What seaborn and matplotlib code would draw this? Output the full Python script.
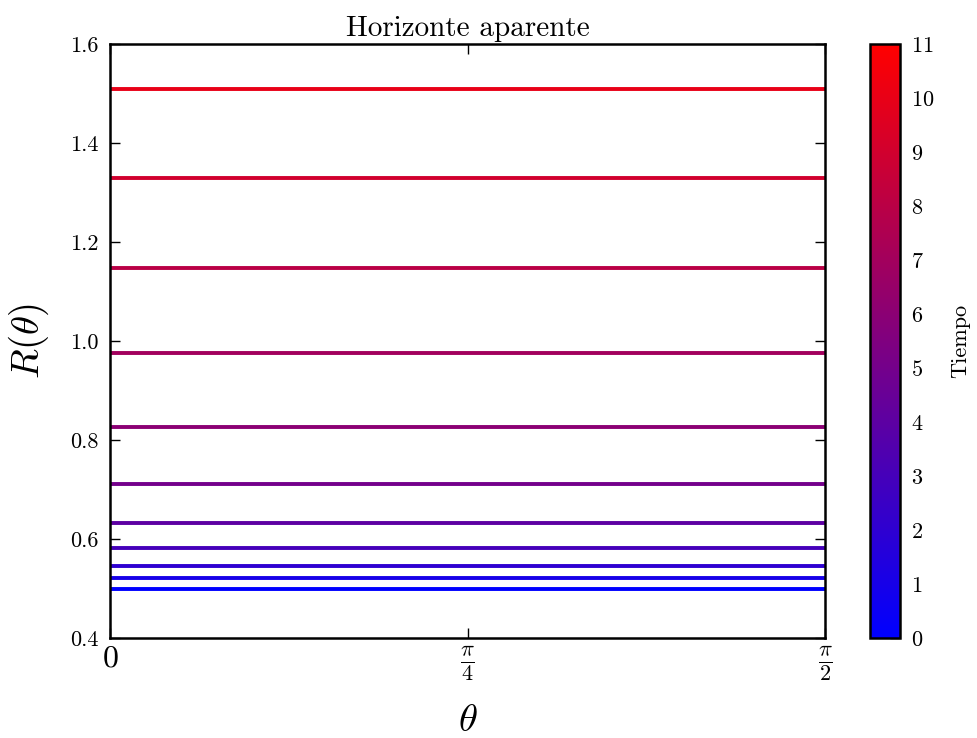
import numpy as np
import pandas as pd
import matplotlib
matplotlib.use("Agg")
import matplotlib.pyplot as plt
import seaborn as sns
from matplotlib.colors import LinearSegmentedColormap, Normalize
from matplotlib.cm import ScalarMappable

# Data
tiempos = [0, 1, 2, 3, 4, 5, 6, 7, 8, 9, 10]
radios = [0.499, 0.521, 0.546, 0.582, 0.633, 0.711, 0.827, 0.976, 1.148, 1.329, 1.509]
theta_ends = [0.0, np.pi / 2]
xtick_vals = [0.0, np.pi / 4, np.pi / 2]
xtick_labels = [r'$0$', r'$\frac{\pi}{4}$', r'$\frac{\pi}{2}$']
ytick_vals = [0.4, 0.6, 0.8, 1.0, 1.2, 1.4, 1.6]
cbar_ticks = list(range(0, 12))

rows = []
for t, r in zip(tiempos, radios):
    for th in theta_ends:
        rows.append({"theta": th, "R": r, "t": t})
df = pd.DataFrame(rows)

sns.set_style("white")
plt.rcParams['font.family'] = ['serif']
plt.rcParams['font.serif'] = ['cmr10', 'DejaVu Serif']
plt.rcParams['mathtext.fontset'] = 'cm'
plt.rcParams['axes.formatter.use_mathtext'] = True
plt.rcParams['text.color'] = 'black'
plt.rcParams['axes.labelcolor'] = 'black'
plt.rcParams['xtick.color'] = 'black'
plt.rcParams['ytick.color'] = 'black'

cmap = LinearSegmentedColormap.from_list("br", ["#0000ff", "#ff0000"])
norm = Normalize(vmin=0, vmax=11)

fig = plt.figure(figsize=(9.77, 7.38), dpi=100)
ax = fig.add_axes([110 / 977, 1 - 638 / 738, (825 - 110) / 977, (638 - 44) / 738])
cax = fig.add_axes([870 / 977, 1 - 638 / 738, 30 / 977, (638 - 44) / 738])

sns.lineplot(data=df, x="theta", y="R", hue="t", palette=cmap, hue_norm=norm,
             units="t", estimator=None, legend=False, lw=2.8, ax=ax)

ax.set_xlim(0, np.pi / 2)
ax.set_ylim(0.4, 1.6)
ax.set_xticks(xtick_vals)
ax.set_xticklabels(xtick_labels, fontsize=23)
ax.set_yticks(ytick_vals)
ax.set_yticklabels([f"{v:.1f}" for v in ytick_vals], fontsize=16)
ax.tick_params(axis='both', direction='in', length=7, width=1, top=True, right=True,
               bottom=True, left=True, color='black', labelcolor='black')
ax.tick_params(axis='x', pad=5)
ax.tick_params(axis='y', pad=8)
for s in ax.spines.values():
    s.set_visible(True)
    s.set_linewidth(1.8)
    s.set_color('black')
ax.set_xlabel(r'$\theta$', fontsize=28, labelpad=14)
ax.set_ylabel(r'$R(\theta)$', fontsize=28, labelpad=14)
ax.set_title('Horizonte aparente', fontsize=21, pad=6, color='black')

sm = ScalarMappable(norm=norm, cmap=cmap)
sm.set_array([])
cb = fig.colorbar(sm, cax=cax, ticks=cbar_ticks)
cb.ax.tick_params(direction='in', length=7, width=1, labelsize=16, color='black',
                  labelcolor='black', pad=8)
cb.outline.set_linewidth(1.8)
cb.outline.set_edgecolor('black')
cb.set_label('Tiempo', fontsize=16, labelpad=12, color='black')

fig.savefig("out.png", dpi=100)
